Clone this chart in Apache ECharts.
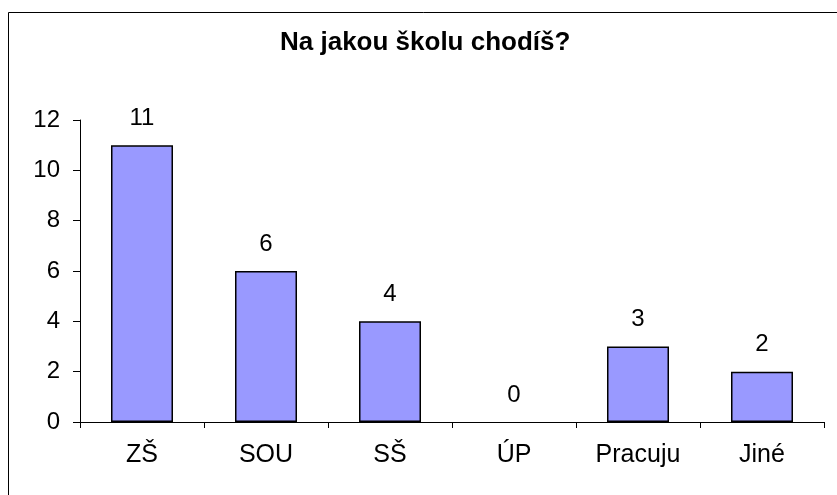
<!DOCTYPE html>
<html>
<head>
<meta charset="utf-8">
<script src="https://cdn.jsdelivr.net/npm/echarts@6/dist/echarts.min.js"></script>
<style>
html,body{margin:0;padding:0;background:#fff;}
#chart{width:837px;height:495px;}
</style>
</head>
<body>
<div id="chart"></div>
<script>
var titleText = 'Na jakou školu chodíš?';
var categories = ['ZŠ', 'SOU', 'SŠ', 'ÚP', 'Pracuju', 'Jiné'];
var values = [11, 6, 4, 0, 3, 2];
var yTicks = { min: 0, max: 12, interval: 2 };

var font = '"Liberation Sans", Arial, sans-serif';
var barData = values.map(function (v) {
  return v === 0 ? { value: v, itemStyle: { borderWidth: 0 } } : { value: v };
});
var chart = echarts.init(document.getElementById('chart'), null, { renderer: 'canvas' });
chart.setOption({
  backgroundColor: '#ffffff',
  animation: false,
  title: {
    text: titleText,
    left: 280,
    top: 30,
    padding: 0,
    textStyle: { fontFamily: font, fontSize: 26, fontWeight: 'bold', color: '#000' }
  },
  graphic: [{
    type: 'rect',
    shape: { x: 8.5, y: 12.5, width: 900, height: 600 },
    style: { fill: null, stroke: '#000', lineWidth: 1 },
    silent: true
  }],
  grid: { left: 80, right: 13, top: 120, bottom: 73, containLabel: false },
  xAxis: {
    type: 'category',
    data: categories,
    boundaryGap: true,
    axisLine: { show: true, lineStyle: { color: '#000', width: 1 } },
    axisTick: { show: true, length: 6, lineStyle: { color: '#000' } },
    axisLabel: { fontFamily: font, fontSize: 25, color: '#000', margin: 21 },
    splitLine: { show: false }
  },
  yAxis: {
    type: 'value',
    min: yTicks.min,
    max: yTicks.max,
    interval: yTicks.interval,
    axisLine: { show: true, lineStyle: { color: '#000', width: 1 } },
    axisTick: { show: true, length: 7, lineStyle: { color: '#000' } },
    axisLabel: { fontFamily: font, fontSize: 24, color: '#000', margin: 20 },
    splitLine: { show: false }
  },
  series: [{
    type: 'bar',
    data: barData,
    barWidth: '50%',
    itemStyle: { color: '#9999FF', borderColor: '#000', borderWidth: 1.5 },
    label: {
      show: true,
      position: 'top',
      distance: 15,
      fontFamily: font,
      fontSize: 24,
      color: '#000'
    }
  }]
});
</script>
</body>
</html>
